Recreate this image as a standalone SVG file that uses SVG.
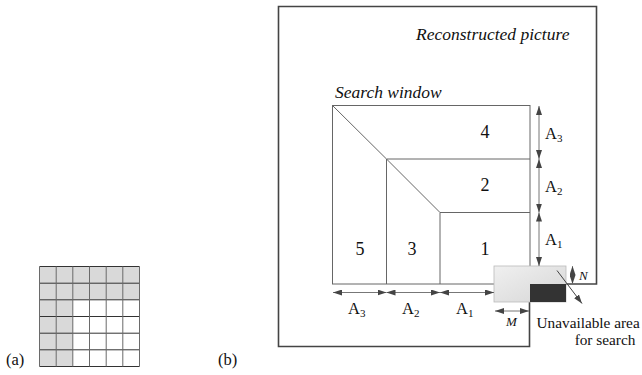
<svg xmlns="http://www.w3.org/2000/svg" width="642" height="375" viewBox="0 0 642 375" font-family="'Liberation Serif', 'DejaVu Serif', serif">
<style>
text{font-family:'Liberation Serif','DejaVu Serif',serif;fill:#111}
.it{font-style:italic}
.lbl{font-size:16.5px}
.big{font-size:17.5px}
.num{font-size:18px}
.sub{font-size:11px}
.frame{fill:none;stroke:#444;stroke-width:1.6}
.win{fill:none;stroke:#666;stroke-width:1}
.dim{stroke:#777;stroke-width:1;fill:none}
.cell{stroke:#333;stroke-width:1}
</style>
<defs>
<marker id="ah" viewBox="0 0 10 10" refX="10" refY="5" markerWidth="9" markerHeight="6" markerUnits="userSpaceOnUse" orient="auto-start-reverse" preserveAspectRatio="none">
<path d="M0,0L10,5L0,10z" fill="#444"/>
</marker>
<linearGradient id="lg" x1="0" y1="0" x2="1" y2="1">
<stop offset="0" stop-color="#f0f0f0"/>
<stop offset="1" stop-color="#d6d6d6"/>
</linearGradient>
</defs>

<g id="grid-a">
<rect x="39.5" y="266.5" width="100" height="100" fill="#fff"/>
<rect x="39.5" y="266.5" width="100" height="33.3" fill="#d9d9d9"/>
<rect x="39.5" y="266.5" width="33.3" height="100" fill="#d9d9d9"/>
<g class="cell">
<line x1="39.5" y1="266.5" x2="139.5" y2="266.5"/>
<line x1="39.5" y1="283.2" x2="139.5" y2="283.2"/>
<line x1="39.5" y1="299.8" x2="139.5" y2="299.8"/>
<line x1="39.5" y1="316.5" x2="139.5" y2="316.5"/>
<line x1="39.5" y1="333.2" x2="139.5" y2="333.2"/>
<line x1="39.5" y1="349.8" x2="139.5" y2="349.8"/>
<line x1="39.5" y1="366.5" x2="139.5" y2="366.5"/>
</g>
<g class="cell" style="stroke:#6a6a6a">
<line x1="39.5" y1="266.5" x2="39.5" y2="366.5"/>
<line x1="56.2" y1="266.5" x2="56.2" y2="366.5"/>
<line x1="72.8" y1="266.5" x2="72.8" y2="366.5"/>
<line x1="89.5" y1="266.5" x2="89.5" y2="366.5"/>
<line x1="106.2" y1="266.5" x2="106.2" y2="366.5"/>
<line x1="122.8" y1="266.5" x2="122.8" y2="366.5"/>
<line x1="139.5" y1="266.5" x2="139.5" y2="366.5"/>
</g>
<text x="6" y="365" class="lbl">(a)</text>
</g>

<text x="218" y="365" class="lbl">(b)</text>

<g id="reconstructed-picture">
<path class="frame" d="M529.5,302 V346.5 H278.5 V6.5 H596.5 V284 H566"/>
<text x="416" y="40" class="big it">Reconstructed picture</text>
</g>

<g id="search-window">
<rect class="win" x="332.5" y="105.5" width="197.5" height="178.5"/>
<line class="win" x1="386.5" y1="159" x2="530" y2="159"/>
<line class="win" x1="440" y1="212.5" x2="530" y2="212.5"/>
<line class="win" x1="386.5" y1="159" x2="386.5" y2="284"/>
<line class="win" x1="440" y1="212.5" x2="440" y2="284"/>
<polyline class="win" points="332.5,105.5 386.5,159 440,212.5"/>
<text x="335" y="98" class="big it">Search window</text>
</g>

<g id="region-4"><text x="485" y="138" class="num" text-anchor="middle">4</text></g>
<g id="region-2"><text x="485" y="191" class="num" text-anchor="middle">2</text></g>
<g id="region-1"><text x="485" y="255" class="num" text-anchor="middle">1</text></g>
<g id="region-3"><text x="412" y="255" class="num" text-anchor="middle">3</text></g>
<g id="region-5"><text x="360" y="255" class="num" text-anchor="middle">5</text></g>

<g id="current-block">
<rect x="494" y="266" width="72" height="36" fill="url(#lg)" stroke="#bbb" stroke-width="0.8"/>
<rect x="530" y="284" width="36" height="18" fill="#333"/>
</g>

<g id="connectors">
<line class="dim" x1="539" y1="106" x2="539" y2="159" marker-start="url(#ah)" marker-end="url(#ah)"/>
<line class="dim" x1="539" y1="159" x2="539" y2="212.5" marker-start="url(#ah)" marker-end="url(#ah)"/>
<line class="dim" x1="539" y1="212.5" x2="539" y2="266" marker-start="url(#ah)" marker-end="url(#ah)"/>
<line class="dim" x1="333" y1="292.5" x2="386.5" y2="292.5" marker-start="url(#ah)" marker-end="url(#ah)"/>
<line class="dim" x1="386.5" y1="292.5" x2="440" y2="292.5" marker-start="url(#ah)" marker-end="url(#ah)"/>
<line class="dim" x1="440" y1="292.5" x2="494" y2="292.5" marker-start="url(#ah)" marker-end="url(#ah)"/>
<line class="dim" x1="495" y1="311" x2="529" y2="311" marker-start="url(#ah)" marker-end="url(#ah)"/>
<line class="dim" x1="572.5" y1="266" x2="572.5" y2="284" marker-start="url(#ah)" marker-end="url(#ah)" style="stroke-width:0.8"/>
<line x1="557" y1="270.5" x2="582" y2="303.5" stroke="#444" stroke-width="1" marker-end="url(#ah)"/>
</g>

<g id="dimension-labels">
<text x="545" y="139" class="lbl">A<tspan class="sub" dy="3">3</tspan></text>
<text x="545" y="192" class="lbl">A<tspan class="sub" dy="3">2</tspan></text>
<text x="545" y="245" class="lbl">A<tspan class="sub" dy="3">1</tspan></text>
<text x="348" y="314" class="lbl">A<tspan class="sub" dy="3">3</tspan></text>
<text x="402" y="314" class="lbl">A<tspan class="sub" dy="3">2</tspan></text>
<text x="456" y="314" class="lbl">A<tspan class="sub" dy="3">1</tspan></text>
<text x="506" y="326" class="it" style="font-size:13px">M</text>
<text x="579" y="280" class="it" style="font-size:13px">N</text>
</g>

<g id="unavailable-label">
<text x="536.5" y="328" style="font-size:15.3px">Unavailable area</text>
<text x="605" y="345" style="font-size:15.3px" text-anchor="middle">for search</text>
</g>
</svg>
